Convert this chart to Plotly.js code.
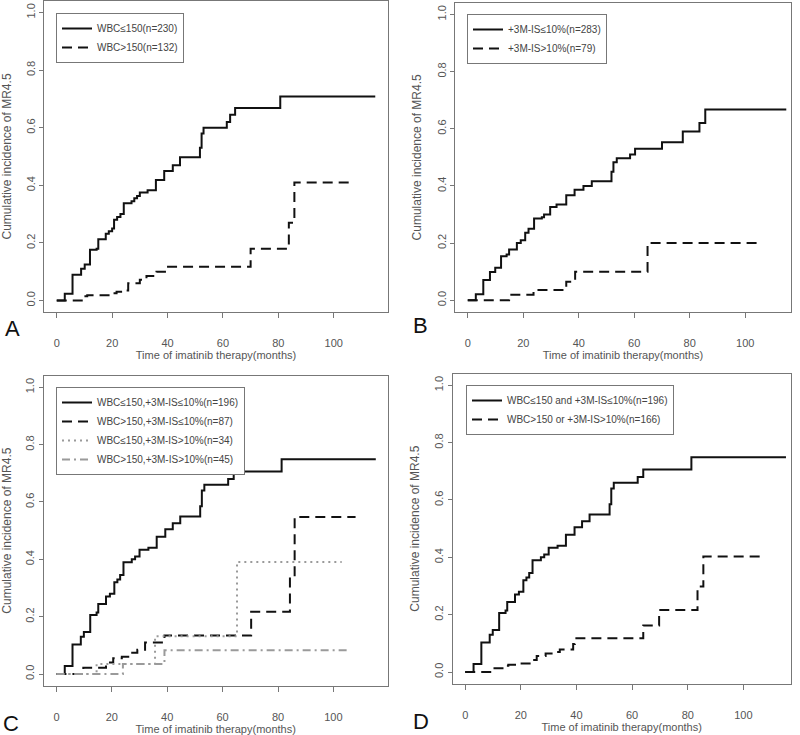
<!DOCTYPE html>
<html>
<head>
<meta charset="utf-8">
<script src="https://cdn.plot.ly/plotly-3.0.1.min.js"></script>
<style>html,body{margin:0;padding:0;background:#fff}#chart{width:800px;height:735px}</style>
</head>
<body>
<div id="chart"></div>
<script>
// ---- Data ----
// Panel A
const A_solid_name = "WBC≤150(n=230)";
const A_solid_t = [0,2.9,5.7,8.8,10.1,12,14.4,15,17.7,18.8,20,20.7,21.8,23,24.2,27,28,29,30,32.8,35.8,38.8,41.9,44.5,51.7,52.3,53,61.4,62.6,64.4,80.7,115];
const A_solid_y = [0,0.023,0.089,0.11,0.125,0.176,0.18,0.213,0.232,0.24,0.25,0.28,0.29,0.30,0.338,0.345,0.355,0.363,0.375,0.383,0.418,0.45,0.47,0.497,0.53,0.58,0.60,0.62,0.645,0.668,0.708,0.708];
const A_dash_name = "WBC>150(n=132)";
const A_dash_t = [0,9.5,11,19.5,21.6,24,25.8,30,32.4,36,39.7,70,83.8,85.8,106];
const A_dash_y = [0,0.015,0.018,0.025,0.03,0.035,0.06,0.072,0.085,0.10,0.117,0.18,0.27,0.41,0.41];

// Panel B
const B_solid_name = "+3M-IS≤10%(n=283)";
const B_solid_t = [0,2.9,5.6,8,9.9,12,14,14.9,17.7,19.1,20.7,21.9,23.9,26.7,27.5,29.7,32,35.5,38.5,41.7,44.7,51.8,52.5,53.7,58.5,60.3,70,77.5,83.5,85.6,114.8];
const B_solid_y = [0,0.021,0.071,0.099,0.114,0.154,0.16,0.178,0.2,0.21,0.236,0.25,0.286,0.29,0.30,0.326,0.335,0.367,0.387,0.40,0.416,0.45,0.483,0.497,0.51,0.53,0.553,0.59,0.62,0.667,0.667];
const B_dash_name = "+3M-IS>10%(n=79)";
const B_dash_t = [0,14.9,23.7,35.5,38.7,64.8,104.8];
const B_dash_y = [0,0.019,0.036,0.065,0.10,0.20,0.20];

// Panel C
const C_solid_name = "WBC≤150,+3M-IS≤10%(n=196)";
const C_solid_t = [0,3,5.8,8.8,9.9,12.2,14.5,15.1,17.9,19.3,20.9,22,23,24.2,27.2,28.4,30,33.2,36.2,39.3,42,44.7,51.9,52.5,53.4,62,64,81.3,115.3];
const C_solid_y = [0,0.028,0.103,0.13,0.147,0.206,0.215,0.244,0.27,0.28,0.32,0.33,0.345,0.39,0.40,0.41,0.433,0.44,0.479,0.505,0.526,0.549,0.585,0.64,0.66,0.68,0.706,0.749,0.749];
const C_dash_name = "WBC>150,+3M-IS≤10%(n=87)";
const C_dash_t = [0,9.7,17.9,20.5,23.6,26.6,29.2,32,39,70.3,84.3,86,108];
const C_dash_y = [0,0.022,0.04,0.055,0.06,0.074,0.085,0.11,0.134,0.217,0.34,0.548,0.548];
const C_dot_name = "WBC≤150,+3M-IS>10%(n=34)";
const C_dot_t = [0,14.5,35.6,65.2,103];
const C_dot_y = [0,0.035,0.132,0.391,0.391];
const C_dd_name = "WBC>150,+3M-IS>10%(n=45)";
const C_dd_t = [0,24,39,105];
const C_dd_y = [0,0.035,0.083,0.083];

// Panel D
const D_solid_name = "WBC≤150 and +3M-IS≤10%(n=196)";
const D_solid_t = C_solid_t;
const D_solid_y = C_solid_y;
const D_dash_name = "WBC>150 or +3M-IS>10%(n=166)";
const D_dash_t = [0,9.5,14.3,15.5,17.9,23.9,25.7,28.9,32.3,34,38.8,39.4,64,69.7,83.5,85.6,106];
const D_dash_y = [0,0.013,0.022,0.025,0.03,0.042,0.056,0.065,0.07,0.079,0.098,0.118,0.162,0.216,0.298,0.403,0.403];

const xTicks = [0,20,40,60,80,100];
const yTicks = [0,0.2,0.4,0.6,0.8,1.0];
const xTitle = "Time of imatinib therapy(months)";
const yTitle = "Cumulative incidence of MR4.5";
const panelLetters = ["A","B","C","D"];

// ---- Styles ----
const FONT = "Liberation Sans, Arial, sans-serif";
const solid = {color:"#111", width:2, dash:"solid", shape:"hv"};
const dashed = {color:"#111", width:2, dash:"10px,6px", shape:"hv"};
const dotted = {color:"#9a9a9a", width:2, dash:"2px,4px", shape:"hv"};
const dashdot = {color:"#9a9a9a", width:2, dash:"8px,4px,2px,4px", shape:"hv"};

function tr(t, y, name, line, ax, leg) {
  return {x:t, y:y, name:name, type:"scatter", mode:"lines", line:line,
          xaxis:"x"+ax, yaxis:"y"+ax, legend:leg, hoverinfo:"x+y"};
}

const data = [
  tr(A_solid_t, A_solid_y, A_solid_name, solid, "", "legend"),
  tr(A_dash_t, A_dash_y, A_dash_name, dashed, "", "legend"),
  tr(B_solid_t, B_solid_y, B_solid_name, solid, "2", "legend2"),
  tr(B_dash_t, B_dash_y, B_dash_name, dashed, "2", "legend2"),
  tr(C_solid_t, C_solid_y, C_solid_name, solid, "3", "legend3"),
  tr(C_dash_t, C_dash_y, C_dash_name, dashed, "3", "legend3"),
  tr(C_dot_t, C_dot_y, C_dot_name, dotted, "3", "legend3"),
  tr(C_dd_t, C_dd_y, C_dd_name, dashdot, "3", "legend3"),
  tr(D_solid_t, D_solid_y, D_solid_name, solid, "4", "legend4"),
  tr(D_dash_t, D_dash_y, D_dash_name, dashed, "4", "legend4"),
];

const W = 800, H = 735;
function xaxis(px0, px1, range, anchor) {
  return {domain:[px0/W, px1/W], range:range, anchor:anchor,
    showline:true, mirror:true, linecolor:"#777", linewidth:1,
    showgrid:false, zeroline:false, ticks:"outside", ticklen:5, tickcolor:"#777",
    tickvals:xTicks, ticktext:xTicks.map(String), ticklabelstandoff:16,
    tickfont:{family:FONT, size:11, color:"#555"},
    title:{text:xTitle, font:{family:FONT, size:11, color:"#555"}, standoff:0}};
}
function yaxis(top, bottom, anchor) {
  return {domain:[1-bottom/H, 1-top/H], range:[-0.04,1.04], anchor:anchor,
    showline:true, mirror:true, linecolor:"#777", linewidth:1,
    showgrid:false, zeroline:false, ticks:"outside", ticklen:4, tickcolor:"#777",
    tickvals:yTicks, ticktext:yTicks.map(v=>v.toFixed(1)), tickangle:-90, ticklabelstandoff:0,
    tickfont:{family:FONT, size:11, color:"#555"},
    title:{text:yTitle, font:{family:FONT, size:12, color:"#555"}, standoff:11}};
}
function legend(px, py) {
  return {x:px/W, y:1-py/H, xanchor:"left", yanchor:"top", xref:"paper", yref:"paper",
    bgcolor:"#fff", bordercolor:"#777", borderwidth:1, itemwidth:30,
    font:{family:FONT, size:10, color:"#444"}, tracegroupgap:0};
}
function letter(txt, cx, cy) {
  return {text:txt, xref:"paper", yref:"paper", x:cx/W, y:1-cy/H, xanchor:"center", yanchor:"middle",
    showarrow:false, font:{family:FONT, size:22, color:"#111"}};
}

const layout = {
  width:W, height:H, margin:{l:0,r:0,t:0,b:0},
  paper_bgcolor:"#fff", plot_bgcolor:"#fff", showlegend:true,
  xaxis: xaxis(44, 388, [-4.6,119.6], "y"),
  yaxis: yaxis(1, 312, "x"),
  xaxis2: xaxis(455, 791, [-4.6,116.5], "y2"),
  yaxis2: yaxis(3, 311.7, "x2"),
  xaxis3: xaxis(43.7, 387.7, [-4.6,119.6], "y3"),
  yaxis3: yaxis(375.8, 685.5, "x3"),
  xaxis4: xaxis(452.7, 790.7, [-4.5,117], "y4"),
  yaxis4: yaxis(373.8, 683.5, "x4"),
  legend: legend(56, 13),
  legend2: legend(467, 14),
  legend3: legend(56, 387),
  legend4: legend(466, 385),
  annotations:[
    letter(panelLetters[0], 12, 328),
    letter(panelLetters[1], 420, 325),
    letter(panelLetters[2], 11, 723),
    letter(panelLetters[3], 421, 721)
  ]
};

Plotly.newPlot("chart", data, layout, {staticPlot:true, displayModeBar:false});
</script>
</body>
</html>
